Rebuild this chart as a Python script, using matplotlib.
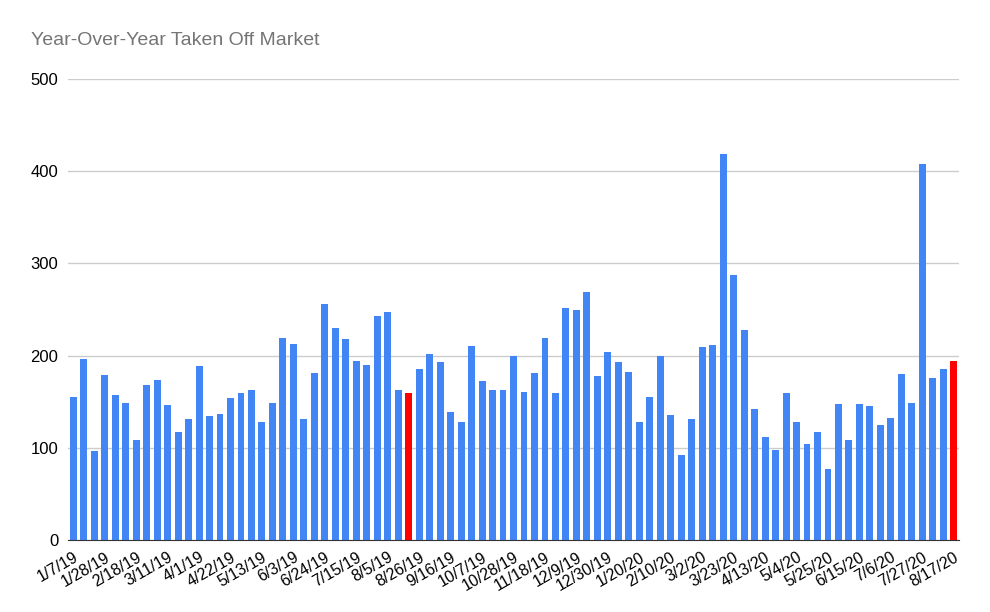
import matplotlib
matplotlib.use('Agg')
import matplotlib.pyplot as plt

plt.rcParams['font.family'] = ['Liberation Sans', 'DejaVu Sans']

# weekly values, 1/7/19 .. 8/17/20
values = [155, 196, 97, 179, 157, 149, 108, 168, 174, 146,
          117, 131, 189, 134, 137, 154, 159, 163, 128, 149,
          219, 213, 131, 181, 256, 230, 218, 194, 190, 243,
          247, 163, 159, 185, 202, 193, 139, 128, 210, 173,
          163, 163, 200, 161, 181, 219, 159, 252, 249, 269,
          178, 204, 193, 182, 128, 155, 200, 136, 92, 131,
          209, 211, 419, 287, 228, 142, 112, 98, 160, 128,
          104, 117, 77, 148, 109, 148, 145, 125, 132, 180,
          149, 408, 176, 185, 194]
highlight = [32, 84]  # bars drawn in red

tick_labels = ['1/7/19', '1/28/19', '2/18/19', '3/11/19', '4/1/19', '4/22/19',
               '5/13/19', '6/3/19', '6/24/19', '7/15/19', '8/5/19', '8/26/19',
               '9/16/19', '10/7/19', '10/28/19', '11/18/19', '12/9/19',
               '12/30/19', '1/20/20', '2/10/20', '3/2/20', '3/23/20',
               '4/13/20', '5/4/20', '5/25/20', '6/15/20', '7/6/20',
               '7/27/20', '8/17/20']

colors = ['#ff0000' if i in highlight else '#4285f4' for i in range(len(values))]

fig = plt.figure(figsize=(9.9, 6.12), dpi=100)
ax = fig.add_axes([0.0687, 0.1176, 0.9, 0.7533])

ax.bar(range(len(values)), values, width=0.66, color=colors, zorder=3)

ax.set_xlim(-0.5, len(values) - 0.5)
ax.set_ylim(0, 500)
ax.set_yticks([0, 100, 200, 300, 400, 500])
ax.grid(axis='y', color='#cccccc', linewidth=1, zorder=0)

ax.set_xticks(range(0, len(values), 3))
ax.set_xticklabels(tick_labels, rotation=30, ha='right', rotation_mode='anchor')

for side in ['top', 'right', 'left']:
    ax.spines[side].set_visible(False)
ax.spines['bottom'].set_color('#333333')
ax.spines['bottom'].set_zorder(4)

ax.tick_params(axis='x', length=0, labelsize=11.5, pad=7)
ax.tick_params(axis='y', length=0, labelsize=12, pad=7)

fig.text(0.031, 0.934, 'Year-Over-Year Taken Off Market', fontsize=14,
         color='#757575', ha='left', va='center')

fig.savefig('out.png', dpi=100, facecolor='white')
